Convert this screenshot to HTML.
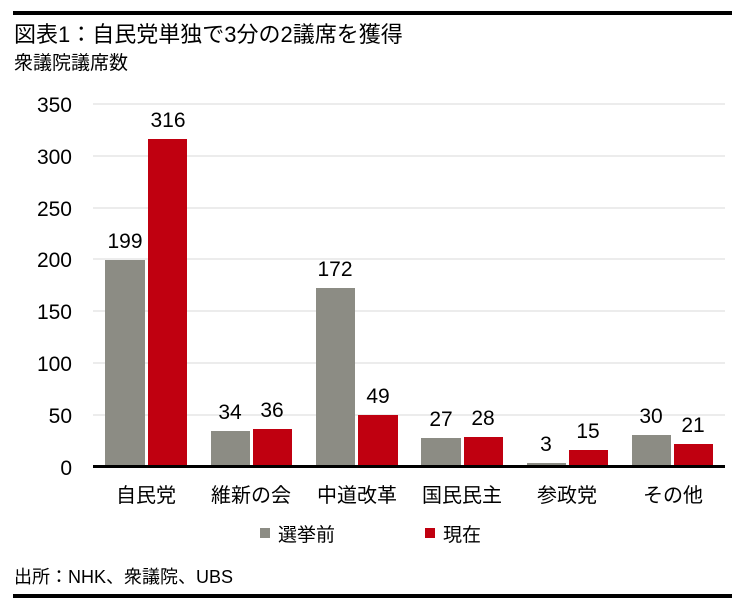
<!DOCTYPE html><html><head><meta charset="utf-8"><style>
body{margin:0;background:#fff;width:745px;height:603px;overflow:hidden;font-family:"Liberation Sans","Noto Sans CJK JP",sans-serif}
</style></head><body>
<svg width="745" height="603" xmlns="http://www.w3.org/2000/svg" font-family="Liberation Sans, Noto Sans CJK JP, sans-serif">
<rect x="13" y="11" width="719" height="4" fill="#000"/>
<text x="14" y="42" font-size="22" fill="#000">図表1：自民党単独で3分の2議席を獲得</text>
<text x="14" y="69" font-size="19" fill="#000">衆議院議席数</text>
<g stroke="#d9d9d9" stroke-width="1">
<line x1="93" x2="725" y1="104" y2="104"/><line x1="93" x2="725" y1="156" y2="156"/><line x1="93" x2="725" y1="208" y2="208"/><line x1="93" x2="725" y1="259" y2="259"/><line x1="93" x2="725" y1="311" y2="311"/><line x1="93" x2="725" y1="363" y2="363"/><line x1="93" x2="725" y1="415" y2="415"/>
</g>
<g font-size="21" text-anchor="end" fill="#000">
<text x="72" y="112">350</text><text x="72" y="164">300</text><text x="72" y="216">250</text><text x="72" y="267">200</text><text x="72" y="319">150</text><text x="72" y="371">100</text><text x="72" y="423">50</text><text x="72" y="475">0</text>
</g>
<g fill="#8c8c84">
<rect x="105" y="260" width="40" height="206"/>
<rect x="211" y="431" width="39" height="35"/>
<rect x="316" y="288" width="39" height="178"/>
<rect x="421" y="438" width="40" height="28"/>
<rect x="527" y="463" width="39" height="3"/>
<rect x="632" y="435" width="39" height="31"/>
</g>
<g fill="#c00010">
<rect x="148" y="139" width="39" height="327"/>
<rect x="253" y="429" width="39" height="37"/>
<rect x="358" y="415" width="40" height="51"/>
<rect x="464" y="437" width="39" height="29"/>
<rect x="569" y="450" width="39" height="16"/>
<rect x="674" y="444" width="39" height="22"/>
</g>
<rect x="93" y="465" width="632" height="3" fill="#000"/>
<g font-size="21" text-anchor="middle" fill="#000">
<text x="125" y="248">199</text><text x="168" y="127">316</text>
<text x="230" y="419">34</text><text x="272" y="417">36</text>
<text x="335" y="276">172</text><text x="378" y="403">49</text>
<text x="441" y="426">27</text><text x="483" y="425">28</text>
<text x="546" y="451">3</text><text x="588" y="438">15</text>
<text x="651" y="423">30</text><text x="693" y="432">21</text>
</g>
<g font-size="20" text-anchor="middle" fill="#000">
<text x="146" y="502">自民党</text><text x="251" y="502">維新の会</text><text x="357" y="502">中道改革</text><text x="462" y="502">国民民主</text><text x="567" y="502">参政党</text><text x="673" y="502">その他</text>
</g>
<rect x="260" y="528" width="10" height="10" fill="#8c8c84"/>
<text x="278" y="541" font-size="19">選挙前</text>
<rect x="425" y="528" width="10" height="10" fill="#c00010"/>
<text x="443" y="541" font-size="19">現在</text>
<text x="14" y="583" font-size="18">出所：NHK、衆議院、UBS</text>
<rect x="13" y="594" width="719" height="4" fill="#000"/>
</svg>
</body></html>
